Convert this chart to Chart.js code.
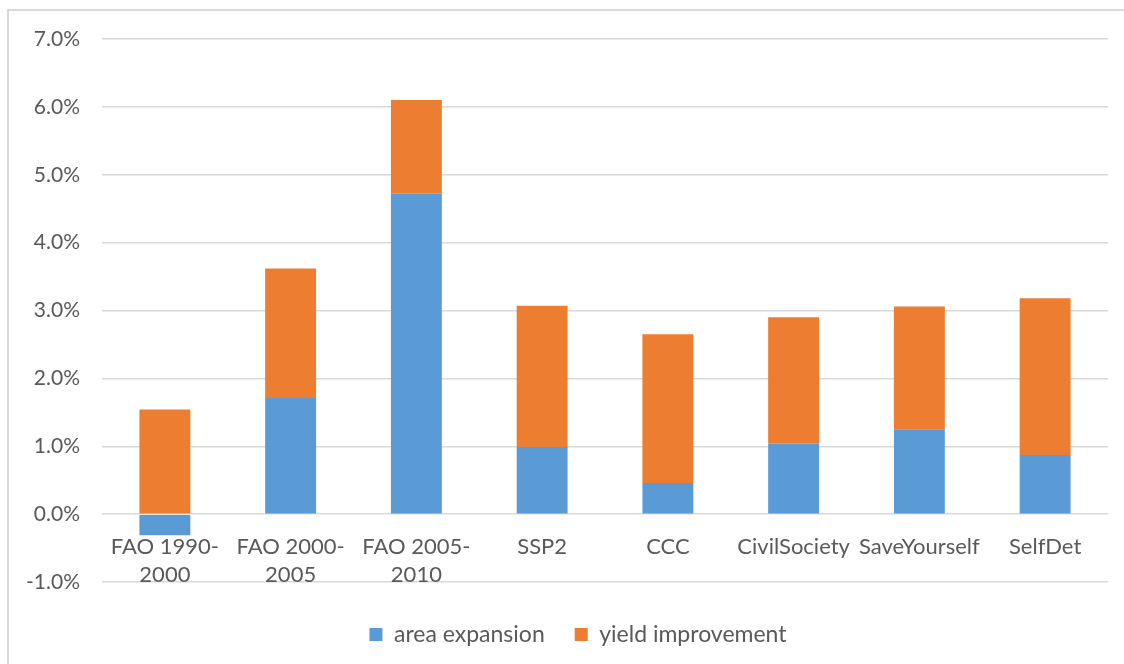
<!DOCTYPE html>
<html lang="en">
<head>
<meta charset="UTF-8">
<title>Area expansion vs yield improvement</title>
<style>
    body {
        margin: 0;
        padding: 0;
        background: #ffffff;
        font-family: 'Lato', sans-serif;
    }
    .frame {
        position: absolute;
        left: 7px;
        top: 9px;
        width: 1117px;
        height: 655px;
        border-top: 2px solid #d9d9d9;
        border-left: 2px solid #d9d9d9;
        box-sizing: border-box;
    }
    .wrap {
        position: absolute;
        left: 0;
        top: 0;
        width: 1124px;
        height: 664px;
    }
</style>
</head>
<body>
<div class="frame"></div>
<div class="wrap"><canvas id="chart" width="1124" height="664"></canvas></div>

<script src="https://cdn.jsdelivr.net/npm/chart.js"></script>
<script>
// categories (two-line labels like the original)
const categories = [
    ['FAO 1990-', '2000'],
    ['FAO 2000-', '2005'],
    ['FAO 2005-', '2010'],
    ['SSP2'],
    ['CCC'],
    ['CivilSociety'],
    ['SaveYourself'],
    ['SelfDet']
];

// values in percent
const areaExpansion    = [-0.31, 1.71, 4.72, 0.99, 0.46, 1.04, 1.25, 0.87];
const yieldImprovement = [ 1.54, 1.91, 1.38, 2.08, 2.19, 1.86, 1.81, 2.31];

const yMin = -1, yMax = 7, yStep = 1;

const textColor = '#595959';
const gridColor = '#d9d9d9';

// draw category labels just under the zero line, the way Excel does it
const zeroLabels = {
    id: 'zeroLabels',
    afterLayout(chart) {
        // nudge the legend a bit right, Excel centres it on the frame
        if (chart.legend) {
            chart.legend.left += 24;
            chart.legend.right += 24;
        }
    },
    afterDraw(chart) {
        const ctx = chart.ctx;
        const x = chart.scales.x;
        const y = chart.scales.y;
        const y0 = y.getPixelForValue(0);
        ctx.save();
        ctx.font = '22px Lato, sans-serif';
        ctx.fillStyle = textColor;
        ctx.textAlign = 'center';
        ctx.textBaseline = 'middle';
        categories.forEach((lines, i) => {
            const cx = x.getPixelForValue(i);
            lines.forEach((line, j) => {
                ctx.fillText(line, cx, y0 + 33 + j * 28);
            });
        });
        ctx.restore();
    }
};

new Chart(document.getElementById('chart'), {
    type: 'bar',
    data: {
        labels: categories.map(c => c.join(' ')),
        datasets: [
            {
                label: 'area expansion',
                data: areaExpansion,
                backgroundColor: '#5B9BD5'
            },
            {
                label: 'yield improvement',
                data: yieldImprovement,
                backgroundColor: '#ED7D31'
            }
        ]
    },
    options: {
        responsive: false,
        animation: false,
        layout: {
            padding: { top: 39, right: 16, bottom: 8, left: 0 }
        },
        datasets: {
            bar: {
                categoryPercentage: 1.0,
                barPercentage: 0.405
            }
        },
        scales: {
            x: {
                stacked: true,
                ticks: { display: false },
                grid: { display: false },
                border: { display: false },
                afterFit(scale) { scale.height = 11; }
            },
            y: {
                stacked: true,
                min: yMin,
                max: yMax,
                ticks: {
                    stepSize: yStep,
                    padding: 22,
                    color: textColor,
                    font: { family: 'Lato', size: 21 },
                    callback: v => Number(v).toFixed(1) + '%'
                },
                grid: {
                    color: gridColor,
                    lineWidth: 1.5,
                    drawTicks: false
                },
                border: { display: false },
                afterFit(scale) { scale.width = 102; }
            }
        },
        plugins: {
            legend: {
                position: 'bottom',
                labels: {
                    color: textColor,
                    font: { family: 'Lato', size: 23 },
                    boxWidth: 13,
                    boxHeight: 13,
                    padding: 30
                }
            },
            tooltip: { enabled: false }
        }
    },
    plugins: [zeroLabels]
});
</script>
</body>
</html>
